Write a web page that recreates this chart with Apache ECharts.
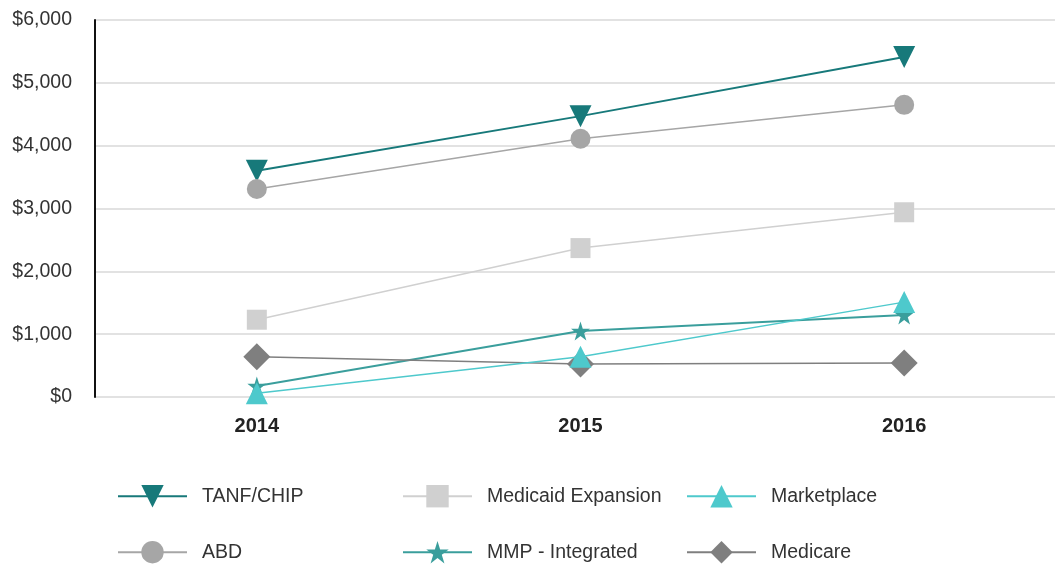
<!DOCTYPE html>
<html><head><meta charset="utf-8">
<script src="https://cdn.jsdelivr.net/npm/echarts@6/dist/echarts.min.js"></script>
<style>html,body{margin:0;padding:0;background:#fff;overflow:hidden}#c{width:1066px;height:565px}</style>
</head><body><div id="c"></div>
<script>
var years = ['2014', '2015', '2016'];
var tanfChip = [3600, 4470, 5410];
var abd = [3310, 4110, 4650];
var medicaidExpansion = [1230, 2370, 2940];
var marketplace = [60, 640, 1510];
var mmpIntegrated = [175, 1050, 1305];
var medicare = [640, 525, 540];
var yTicks = [0, 1000, 2000, 3000, 4000, 5000, 6000];
var seriesNames = ['TANF/CHIP', 'ABD', 'Medicaid Expansion', 'Marketplace', 'MMP - Integrated', 'Medicare'];

var chart = echarts.init(document.getElementById('c'), null, {renderer: 'canvas'});
var font = 'Liberation Sans, Arial, sans-serif';
function s(name, data, color, symbol, size, lw, z) {
  return {name: name, type: 'line', data: data, symbol: symbol, symbolSize: size,
    lineStyle: {color: color, width: lw || 1.5}, itemStyle: {color: color}, z: z || 3};
}
function lg(name, left, top) {
  return {data: [name], left: left, top: top, padding: 0, orient: 'horizontal',
    itemWidth: 69, itemHeight: 28,
    textStyle: {fontFamily: font, fontSize: 19.5, color: '#333', padding: [0, 0, 0, 10]},
    selectedMode: false};
}
chart.setOption({
  animation: false,
  grid: {left: 95, right: 0, top: 20, bottom: 168, containLabel: false},
  xAxis: {type: 'category', data: years, boundaryGap: true,
    axisLine: {show: false}, axisTick: {show: false},
    axisLabel: {fontFamily: font, fontSize: 20, fontWeight: 'bold', color: '#222', margin: 19}},
  yAxis: {type: 'value', min: yTicks[0], max: yTicks[yTicks.length - 1], interval: 1000,
    axisLine: {show: true, lineStyle: {color: '#111', width: 2}}, axisTick: {show: false},
    splitLine: {lineStyle: {color: '#d9d9d9', width: 1.5}},
    axisLabel: {fontFamily: font, fontSize: 19.5, color: '#333', margin: 23,
      formatter: function (v) { return '$' + v.toLocaleString('en-US'); }}},
  legend: [
    lg(seriesNames[0], 117, 485),
    lg(seriesNames[1], 117, 541),
    lg(seriesNames[2], 402, 485),
    lg(seriesNames[4], 402, 541),
    lg(seriesNames[3], 686, 485),
    lg(seriesNames[5], 686, 541)
  ],
  series: [
    s(seriesNames[0], tanfChip, '#17797a', 'path://M0,0 L10,0 L5,9 Z', 22, 2),
    s(seriesNames[1], abd, '#a6a6a6', 'circle', 20),
    s(seriesNames[2], medicaidExpansion, '#d0d0d0', 'rect', 20),
    s(seriesNames[3], marketplace, '#4ec9cc', 'triangle', 22, 1.5, 4),
    s(seriesNames[4], mmpIntegrated, '#3a9e9c', 'path://M50,0 L61.8,35.4 L100,35.4 L69.1,57.3 L80.9,93.3 L50,71.3 L19.1,93.3 L30.9,57.3 L0,35.4 L38.2,35.4 Z', 19, 2),
    s(seriesNames[5], medicare, '#7f7f7f', 'diamond', 27)
  ]
});
</script></body></html>
